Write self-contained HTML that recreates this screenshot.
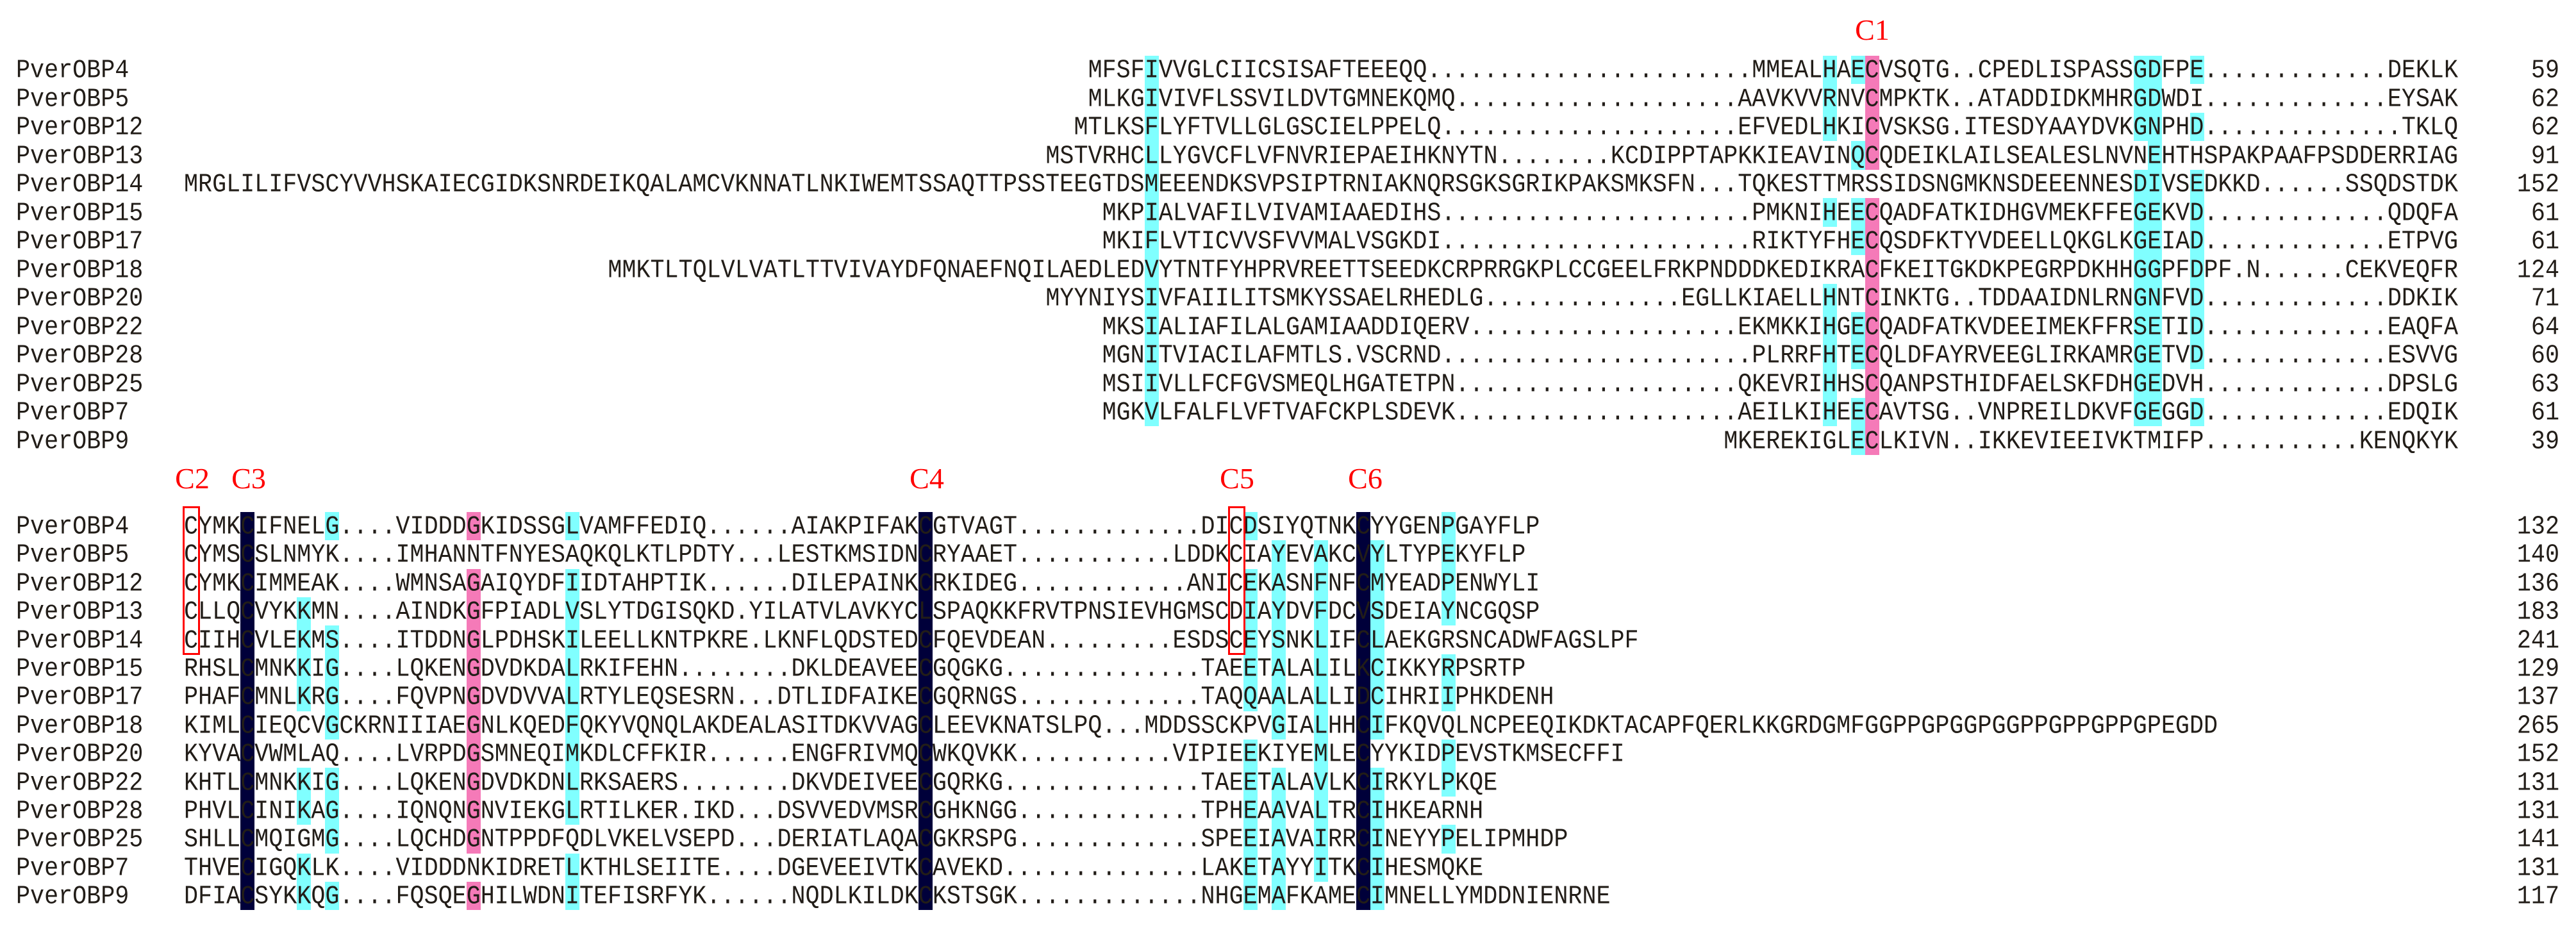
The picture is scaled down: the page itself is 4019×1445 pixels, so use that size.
<!DOCTYPE html>
<html><head><meta charset="utf-8"><style>
html,body{margin:0;padding:0;background:#fff;}
body{width:4019px;height:1445px;position:relative;overflow:hidden;}
pre{margin:0;position:absolute;font-family:"Liberation Mono",monospace;font-size:36.73px;line-height:44px;color:#221d18;white-space:pre;transform:scaleY(1.1);transform-origin:50% 62%;}
.lab{left:25px;}
.num{right:26px;text-align:right;}
.rt{right:184px;text-align:right;}
.h{position:absolute;}
.c{background:#80ffff;}
.p{background:#f57ab8;}
.n{background:#00003a;}
.box{position:absolute;border:3px solid #ff0000;box-sizing:border-box;}
.cl{position:absolute;font-family:"Liberation Serif",serif;font-size:46px;color:#ff0000;line-height:46px;transform:translateX(-50%);}
</style></head><body>

<div class="h c" style="left:1785.7px;top:86.75px;width:22.04px;height:578.5px"></div>
<div class="h c" style="left:2843.6px;top:86.75px;width:22.04px;height:133.5px"></div>
<div class="h c" style="left:2843.6px;top:309.25px;width:22.04px;height:44.5px"></div>
<div class="h c" style="left:2843.6px;top:442.75px;width:22.04px;height:222.5px"></div>
<div class="h c" style="left:2887.7px;top:86.75px;width:22.04px;height:44.5px"></div>
<div class="h c" style="left:2887.7px;top:220.25px;width:22.04px;height:44.5px"></div>
<div class="h c" style="left:2887.7px;top:309.25px;width:22.04px;height:89px"></div>
<div class="h c" style="left:2887.7px;top:487.25px;width:22.04px;height:89px"></div>
<div class="h c" style="left:2887.7px;top:620.75px;width:22.04px;height:89px"></div>
<div class="h p" style="left:2909.8px;top:86.75px;width:22.04px;height:178px"></div>
<div class="h p" style="left:2909.8px;top:309.25px;width:22.04px;height:400.5px"></div>
<div class="h c" style="left:3328.5px;top:86.75px;width:44.08px;height:133.5px"></div>
<div class="h c" style="left:3350.6px;top:220.25px;width:22.04px;height:44.5px"></div>
<div class="h c" style="left:3328.5px;top:264.75px;width:44.08px;height:400.5px"></div>
<div class="h c" style="left:3416.7px;top:86.75px;width:22.04px;height:44.5px"></div>
<div class="h c" style="left:3416.7px;top:175.75px;width:22.04px;height:44.5px"></div>
<div class="h c" style="left:3416.7px;top:264.75px;width:22.04px;height:311.5px"></div>
<div class="h c" style="left:3416.7px;top:620.75px;width:22.04px;height:44.5px"></div>

<div class="h n" style="left:375.2px;top:798.8px;width:22.04px;height:621.6px"></div>
<div class="h n" style="left:1433.1px;top:798.8px;width:22.04px;height:621.6px"></div>
<div class="h n" style="left:2116.3px;top:798.8px;width:22.04px;height:621.6px"></div>
<div class="h c" style="left:463.3px;top:932px;width:22.04px;height:177.6px"></div>
<div class="h c" style="left:463.3px;top:1198.4px;width:22.04px;height:88.8px"></div>
<div class="h c" style="left:463.3px;top:1331.6px;width:22.04px;height:88.8px"></div>
<div class="h c" style="left:507.4px;top:798.8px;width:22.04px;height:44.4px"></div>
<div class="h c" style="left:507.4px;top:976.4px;width:22.04px;height:177.6px"></div>
<div class="h c" style="left:507.4px;top:1198.4px;width:22.04px;height:133.2px"></div>
<div class="h c" style="left:507.4px;top:1376px;width:22.04px;height:44.4px"></div>
<div class="h p" style="left:727.8px;top:798.8px;width:22.04px;height:44.4px"></div>
<div class="h p" style="left:727.8px;top:887.6px;width:22.04px;height:444px"></div>
<div class="h p" style="left:727.8px;top:1376px;width:22.04px;height:44.4px"></div>
<div class="h c" style="left:882.1px;top:798.8px;width:22.04px;height:44.4px"></div>
<div class="h c" style="left:882.1px;top:887.6px;width:22.04px;height:399.6px"></div>
<div class="h c" style="left:882.1px;top:1331.6px;width:22.04px;height:88.8px"></div>
<div class="h c" style="left:1940px;top:798.8px;width:22.04px;height:44.4px"></div>
<div class="h c" style="left:1940px;top:887.6px;width:22.04px;height:222px"></div>
<div class="h c" style="left:1940px;top:1154px;width:22.04px;height:266.4px"></div>
<div class="h c" style="left:1984.1px;top:843.2px;width:22.04px;height:310.8px"></div>
<div class="h c" style="left:1984.1px;top:1198.4px;width:22.04px;height:222px"></div>
<div class="h c" style="left:2050.2px;top:843.2px;width:22.04px;height:532.8px"></div>
<div class="h c" style="left:2138.4px;top:843.2px;width:22.04px;height:310.8px"></div>
<div class="h c" style="left:2138.4px;top:1198.4px;width:22.04px;height:222px"></div>
<div class="h c" style="left:2248.6px;top:798.8px;width:22.04px;height:177.6px"></div>
<div class="h c" style="left:2248.6px;top:1020.8px;width:22.04px;height:88.8px"></div>
<div class="h c" style="left:2248.6px;top:1154px;width:22.04px;height:88.8px"></div>
<div class="h c" style="left:2248.6px;top:1287.2px;width:22.04px;height:44.4px"></div>

<div class="cl" style="left:2921px;top:24px">C1</div>
<div class="cl" style="left:300px;top:724px">C2</div>
<div class="cl" style="left:388px;top:724px">C3</div>
<div class="cl" style="left:1446px;top:724px">C4</div>
<div class="cl" style="left:1930px;top:724px">C5</div>
<div class="cl" style="left:2130px;top:724px">C6</div>

<pre class="lab" style="top:89px">PverOBP4</pre>
<pre class="lab" style="top:133.5px">PverOBP5</pre>
<pre class="lab" style="top:178px">PverOBP12</pre>
<pre class="lab" style="top:222.5px">PverOBP13</pre>
<pre class="lab" style="top:267px">PverOBP14</pre>
<pre class="lab" style="top:311.5px">PverOBP15</pre>
<pre class="lab" style="top:356px">PverOBP17</pre>
<pre class="lab" style="top:400.5px">PverOBP18</pre>
<pre class="lab" style="top:445px">PverOBP20</pre>
<pre class="lab" style="top:489.5px">PverOBP22</pre>
<pre class="lab" style="top:534px">PverOBP28</pre>
<pre class="lab" style="top:578.5px">PverOBP25</pre>
<pre class="lab" style="top:623px">PverOBP7</pre>
<pre class="lab" style="top:667.5px">PverOBP9</pre>

<pre style="left:1697.6px;top:89px">MFSFIVVGLCIICSISAFTEEEQQ</pre>
<pre class="rt" style="top:89px">.......................MMEALHAECVSQTG..CPEDLISPASSGDFPE.............DEKLK</pre>
<pre style="left:1697.6px;top:133.5px">MLKGIVIVFLSSVILDVTGMNEKQMQ</pre>
<pre class="rt" style="top:133.5px">....................AAVKVVRNVCMPKTK..ATADDIDKMHRGDWDI.............EYSAK</pre>
<pre style="left:1675.5px;top:178px">MTLKSFLYFTVLLGLGSCIELPPELQ</pre>
<pre class="rt" style="top:178px">.....................EFVEDLHKICVSKSG.ITESDYAAYDVKGNPHD..............TKLQ</pre>
<pre style="left:1631.4px;top:222.5px">MSTVRHCLLYGVCFLVFNVRIEPAEIHKNYTN</pre>
<pre class="rt" style="top:222.5px">........KCDIPPTAPKKIEAVINQCQDEIKLAILSEALESLNVNEHTHSPAKPAAFPSDDERRIAG</pre>
<pre style="left:287px;top:267px">MRGLILIFVSCYVVHSKAIECGIDKSNRDEIKQALAMCVKNNATLNKIWEMTSSAQTTPSSTEEGTDSMEEENDKSVPSIPTRNIAKNQRSGKSGRIKPAKSMKSFN</pre>
<pre class="rt" style="top:267px">...TQKESTTMRSSIDSNGMKNSDEEENNESDIVSEDKKD......SSQDSTDK</pre>
<pre style="left:1719.6px;top:311.5px">MKPIALVAFILVIVAMIAAEDIHS</pre>
<pre class="rt" style="top:311.5px">......................PMKNIHEECQADFATKIDHGVMEKFFEGEKVD.............QDQFA</pre>
<pre style="left:1719.6px;top:356px">MKIFLVTICVVSFVVMALVSGKDI</pre>
<pre class="rt" style="top:356px">......................RIKTYFHECQSDFKTYVDEELLQKGLKGEIAD.............ETPVG</pre>
<pre class="rt" style="top:400.5px">MMKTLTQLVLVATLTTVIVAYDFQNAEFNQILAEDLEDVYTNTFYHPRVREETTSEEDKCRPRRGKPLCCGEELFRKPNDDDKEDIKRACFKEITGKDKPEGRPDKHHGGPFDPF.N......CEKVEQFR</pre>
<pre style="left:1631.4px;top:445px">MYYNIYSIVFAIILITSMKYSSAELRHEDLG</pre>
<pre class="rt" style="top:445px">..............EGLLKIAELLHNTCINKTG..TDDAAIDNLRNGNFVD.............DDKIK</pre>
<pre style="left:1719.6px;top:489.5px">MKSIALIAFILALGAMIAADDIQERV</pre>
<pre class="rt" style="top:489.5px">...................EKMKKIHGECQADFATKVDEEIMEKFFRSETID.............EAQFA</pre>
<pre style="left:1719.6px;top:534px">MGNITVIACILAFMTLS.VSCRND</pre>
<pre class="rt" style="top:534px">......................PLRRFHTECQLDFAYRVEEGLIRKAMRGETVD.............ESVVG</pre>
<pre style="left:1719.6px;top:578.5px">MSIIVLLFCFGVSMEQLHGATETPN</pre>
<pre class="rt" style="top:578.5px">....................QKEVRIHHSCQANPSTHIDFAELSKFDHGEDVH.............DPSLG</pre>
<pre style="left:1719.6px;top:623px">MGKVLFALFLVFTVAFCKPLSDEVK</pre>
<pre class="rt" style="top:623px">....................AEILKIHEECAVTSG..VNPREILDKVFGEGGD.............EDQIK</pre>
<pre class="rt" style="top:667.5px">MKEREKIGLECLKIVN..IKKEVIEEIVKTMIFP...........KENQKYK</pre>

<pre class="num" style="top:89px">59</pre>
<pre class="num" style="top:133.5px">62</pre>
<pre class="num" style="top:178px">62</pre>
<pre class="num" style="top:222.5px">91</pre>
<pre class="num" style="top:267px">152</pre>
<pre class="num" style="top:311.5px">61</pre>
<pre class="num" style="top:356px">61</pre>
<pre class="num" style="top:400.5px">124</pre>
<pre class="num" style="top:445px">71</pre>
<pre class="num" style="top:489.5px">64</pre>
<pre class="num" style="top:534px">60</pre>
<pre class="num" style="top:578.5px">63</pre>
<pre class="num" style="top:623px">61</pre>
<pre class="num" style="top:667.5px">39</pre>

<pre class="lab" style="top:801px">PverOBP4</pre>
<pre class="lab" style="top:845.4px">PverOBP5</pre>
<pre class="lab" style="top:889.8px">PverOBP12</pre>
<pre class="lab" style="top:934.2px">PverOBP13</pre>
<pre class="lab" style="top:978.6px">PverOBP14</pre>
<pre class="lab" style="top:1023px">PverOBP15</pre>
<pre class="lab" style="top:1067.4px">PverOBP17</pre>
<pre class="lab" style="top:1111.8px">PverOBP18</pre>
<pre class="lab" style="top:1156.2px">PverOBP20</pre>
<pre class="lab" style="top:1200.6px">PverOBP22</pre>
<pre class="lab" style="top:1245px">PverOBP28</pre>
<pre class="lab" style="top:1289.4px">PverOBP25</pre>
<pre class="lab" style="top:1333.8px">PverOBP7</pre>
<pre class="lab" style="top:1378.2px">PverOBP9</pre>

<pre style="left:287px;top:801px">CYMKCIFNELG....VIDDDGKIDSSGLVAMFFEDIQ......AIAKPIFAKCGTVAGT.............DICDSIYQTNKCYYGENPGAYFLP</pre>
<pre style="left:287px;top:845.4px">CYMSCSLNMYK....IMHANNTFNYESAQKQLKTLPDTY...LESTKMSIDNCRYAAET...........LDDKCIAYEVAKCVYLTYPEKYFLP</pre>
<pre style="left:287px;top:889.8px">CYMKCIMMEAK....WMNSAGAIQYDFIIDTAHPTIK......DILEPAINKCRKIDEG............ANICEKASNFNFCMYEADPENWYLI</pre>
<pre style="left:287px;top:934.2px">CLLQCVYKKMN....AINDKGFPIADLVSLYTDGISQKD.YILATVLAVKYCLSPAQKKFRVTPNSIEVHGMSCDIAYDVFDCVSDEIAYNCGQSP</pre>
<pre style="left:287px;top:978.6px">CIIHCVLEKMS....ITDDNGLPDHSKILEELLKNTPKRE.LKNFLQDSTEDCFQEVDEAN.........ESDSCEYSNKLIFCLAEKGRSNCADWFAGSLPF</pre>
<pre style="left:287px;top:1023px">RHSLCMNKKIG....LQKENGDVDKDALRKIFEHN........DKLDEAVEECGQGKG..............TAEETALALILKCIKKYRPSRTP</pre>
<pre style="left:287px;top:1067.4px">PHAFCMNLKRG....FQVPNGDVDVVALRTYLEQSESRN...DTLIDFAIKECGQRNGS.............TAQQAALALLIDCIHRIIPHKDENH</pre>
<pre style="left:287px;top:1111.8px">KIMLCIEQCVGCKRNIIIAEGNLKQEDFQKYVQNQLAKDEALASITDKVVAGCLEEVKNATSLPQ...MDDSSCKPVGIALHHCIFKQVQLNCPEEQIKDKTACAPFQERLKKGRDGMFGGPPGPGGPGGPPGPPGPPGPEGDD</pre>
<pre style="left:287px;top:1156.2px">KYVACVWMLAQ....LVRPDGSMNEQIMKDLCFFKIR......ENGFRIVMQCWKQVKK...........VIPIEEKIYEMLECYYKIDPEVSTKMSECFFI</pre>
<pre style="left:287px;top:1200.6px">KHTLCMNKKIG....LQKENGDVDKDNLRKSAERS........DKVDEIVEECGQRKG..............TAEETALAVLKCIRKYLPKQE</pre>
<pre style="left:287px;top:1245px">PHVLCINIKAG....IQNQNGNVIEKGLRTILKER.IKD...DSVVEDVMSRCGHKNGG.............TPHEAAVALTRCIHKEARNH</pre>
<pre style="left:287px;top:1289.4px">SHLLCMQIGMG....LQCHDGNTPPDFQDLVKELVSEPD...DERIATLAQACGKRSPG.............SPEEIAVAIRRCINEYYPELIPMHDP</pre>
<pre style="left:287px;top:1333.8px">THVECIGQKLK....VIDDDNKIDRETLKTHLSEIITE....DGEVEEIVTKCAVEKD..............LAKETAYYITKCIHESMQKE</pre>
<pre style="left:287px;top:1378.2px">DFIACSYKKQG....FQSQEGHILWDNITEFISRFYK......NQDLKILDKCKSTSGK.............NHGEMAFKAMECIMNELLYMDDNIENRNE</pre>

<pre class="num" style="top:801px">132</pre>
<pre class="num" style="top:845.4px">140</pre>
<pre class="num" style="top:889.8px">136</pre>
<pre class="num" style="top:934.2px">183</pre>
<pre class="num" style="top:978.6px">241</pre>
<pre class="num" style="top:1023px">129</pre>
<pre class="num" style="top:1067.4px">137</pre>
<pre class="num" style="top:1111.8px">265</pre>
<pre class="num" style="top:1156.2px">152</pre>
<pre class="num" style="top:1200.6px">131</pre>
<pre class="num" style="top:1245px">131</pre>
<pre class="num" style="top:1289.4px">141</pre>
<pre class="num" style="top:1333.8px">131</pre>
<pre class="num" style="top:1378.2px">117</pre>

<div class="box" style="left:285px;top:790px;width:27px;height:232px"></div>
<div class="box" style="left:1916px;top:790px;width:27px;height:232px"></div>

</body></html>
